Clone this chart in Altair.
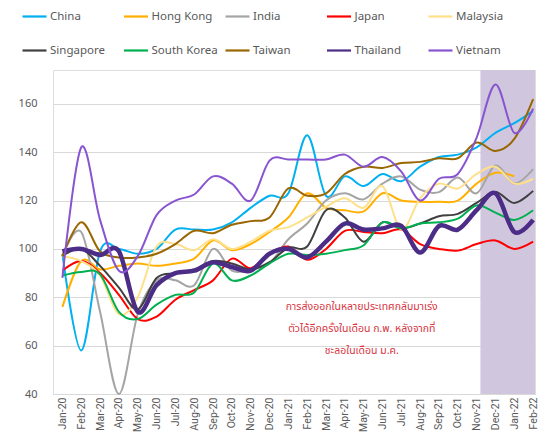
import altair as alt
import pandas as pd

months = ["Jan-20","Feb-20","Mar-20","Apr-20","May-20","Jun-20","Jul-20","Aug-20","Sep-20","Oct-20",
          "Nov-20","Dec-20","Jan-21","Feb-21","Mar-21","Apr-21","May-21","Jun-21","Jul-21","Aug-21",
          "Sep-21","Oct-21","Nov-21","Dec-21","Jan-22","Feb-22"]

countries = ["China","Hong Kong","India","Japan","Malaysia","Singapore","South Korea","Taiwan","Thailand","Vietnam"]
colors = ["#00B0F0","#FFB000","#A5A5A5","#FF0000","#FFE08A","#404040","#00B050","#996600","#4B2C86","#8854D0"]
widths = [2, 2, 2, 2, 2, 2, 2, 2, 4.5, 2]

china = [98, 58, 99, 100, 98, 100, 108, 108, 108, 111, 117, 122, 123, 147, 122, 130, 126, 131, 128, 134, 138, 139, 142, 148, 152, 157]
hong_kong = [76, 95, 91.5, 93, 94, 93, 94, 96, 103.5, 99.5, 102, 107, 113, 123, 117, 116, 115.5, 123, 120, 119.5, 119.5, 120, 127, 131.5, 130, None]
india = [97, 107, 74, 40, 73, 87, 87, 85, 100, 91, 91.5, 94, 104, 110.5, 120, 123, 120.5, 127, 130, 124.5, 123.5, 129.5, 123, 134.5, 127, 133]
japan = [91, 95, 90, 81, 71, 72, 79, 83, 87, 96, 92, 98, 101, 95.5, 100, 107.5, 107, 106.5, 108, 102, 100, 99.3, 102, 103.5, 100, 103]
malaysia = [97, 95, 89, 73, 80, 101, 102, 99.5, 104, 100, 103, 107.5, 109, 113, 117.5, 121, 117, 126, 108, 121, 127, 125, 131, 134, 127, 129]
singapore = [97, 100, 93, 84, 75, 88, 90, 91.5, 95, 94, 91.5, 94.5, 100.5, 101, 116, 113, 103, 111, 108.5, 110.5, 113.5, 114.5, 119, 123.5, 119, 124]
south_korea = [89, 90.5, 89.5, 74, 71, 77, 81, 82, 94, 87, 89, 94, 98, 97.5, 98, 99.5, 101.5, 111, 108.5, 110.5, 111, 112.5, 118, 115, 112, 116]
taiwan = [97, 111, 99, 96.5, 96.5, 98, 102, 107.5, 106.5, 110, 111.5, 113, 125, 122, 123, 131, 134, 133.5, 135.5, 136, 137.5, 137.5, 144, 140.5, 145.5, 162]
thailand = [99, 100, 97.5, 99, 74, 85, 90, 91, 94.5, 92.5, 91, 98, 100, 96.5, 103, 110.5, 108, 108.5, 109.5, 98.5, 109.5, 108, 116, 123, 107, 112]
vietnam = [88, 142, 112, 91, 97, 114, 120, 122.5, 130, 127, 120, 136.5, 137, 137, 137, 139, 134, 138, 132, 120, 129, 131, 146, 168, 148, 158]

series = [china, hong_kong, india, japan, malaysia, singapore, south_korea, taiwan, thailand, vietnam]

note = "การส่งออกในหลายประเทศกลับมาเร่ง\nตัวได้อีกครั้งในเดือน ก.พ. หลังจากที่\nชะลอในเดือน ม.ค."
note_x = 15.9
note_y = 76
highlight_from = 22.2

rows = []
for c, w, vals in zip(countries, widths, series):
    for i, v in enumerate(vals):
        if v is not None:
            rows.append({"country": c, "idx": i, "month": months[i], "value": v, "w": w})
df = pd.DataFrame(rows)

W, H = 482, 324
X_MIN, X_MAX = -0.5, 25.1
Y_MIN, Y_MAX = 40, 174

xscale = alt.Scale(domain=[X_MIN, X_MAX], nice=False, zero=False)
yscale = alt.Scale(domain=[Y_MIN, Y_MAX], nice=False, zero=False)

label_expr = "[" + ",".join("'%s'" % m for m in months) + "][datum.value]"

x_axis = alt.Axis(values=list(range(len(months))), labelExpr=label_expr, labelAngle=-90,
                  labelOverlap=False, labelBound=False, labelFlush=False,
                  grid=False, domain=False, ticks=False, labelPadding=3,
                  labelFontSize=10.5, labelColor="#595959", labelFont="Roboto", title=None)
y_axis = alt.Axis(values=[40, 60, 80, 100, 120, 140, 160], grid=True, gridColor="#D9D9D9",
                  domain=False, ticks=False, labelPadding=16, labelFontSize=11,
                  labelColor="#595959", labelFont="Noto Sans", title=None)

band = alt.Chart(pd.DataFrame({"start": [highlight_from], "end": [X_MAX]})).mark_rect(
    color="#D0C7DF"
).encode(
    x=alt.X("start:Q", scale=xscale, axis=x_axis),
    x2="end:Q",
    y=alt.value(0),
    y2=alt.value(H),
)

lines = alt.Chart(df).mark_line(interpolate="cardinal").encode(
    x=alt.X("idx:Q", scale=xscale, axis=x_axis),
    y=alt.Y("value:Q", scale=yscale, axis=y_axis),
    color=alt.Color("country:N", scale=alt.Scale(domain=countries, range=colors), title=None,
                    legend=alt.Legend(orient="none", legendX=-32, legendY=-67, columns=5,
                                      direction="horizontal",
                                      symbolType="stroke", symbolSize=576, symbolStrokeWidth=2.2,
                                      gridAlign="all", columnPadding=2.5, rowPadding=15,
                                      labelFontSize=11.5, labelColor="#595959", labelFont="Noto Sans",
                                      labelOffset=2)),
    strokeWidth=alt.StrokeWidth("w:Q", scale=None, legend=None),
    detail="country:N",
)

text = alt.Chart(pd.DataFrame({"x": [note_x], "y": [note_y], "t": [note]})).mark_text(
    align="center", baseline="middle", lineBreak="\n", lineHeight=22, fontSize=10.5,
    color="#D8343F", font="Noto Sans Thai, Tahoma, Noto Sans, sans-serif"
).encode(
    x=alt.X("x:Q", scale=xscale, axis=x_axis),
    y=alt.Y("y:Q", scale=yscale, axis=y_axis),
    text="t:N",
)

chart = alt.layer(band, lines, text).properties(
    width=W, height=H,
    autosize=alt.AutoSizeParams(type="none"),
    padding={"left": 45, "top": 62, "right": 6, "bottom": 38},
).configure_view(stroke=None).configure(background="white")

chart.save("out.html", embed_options={"renderer": "svg", "actions": False})
